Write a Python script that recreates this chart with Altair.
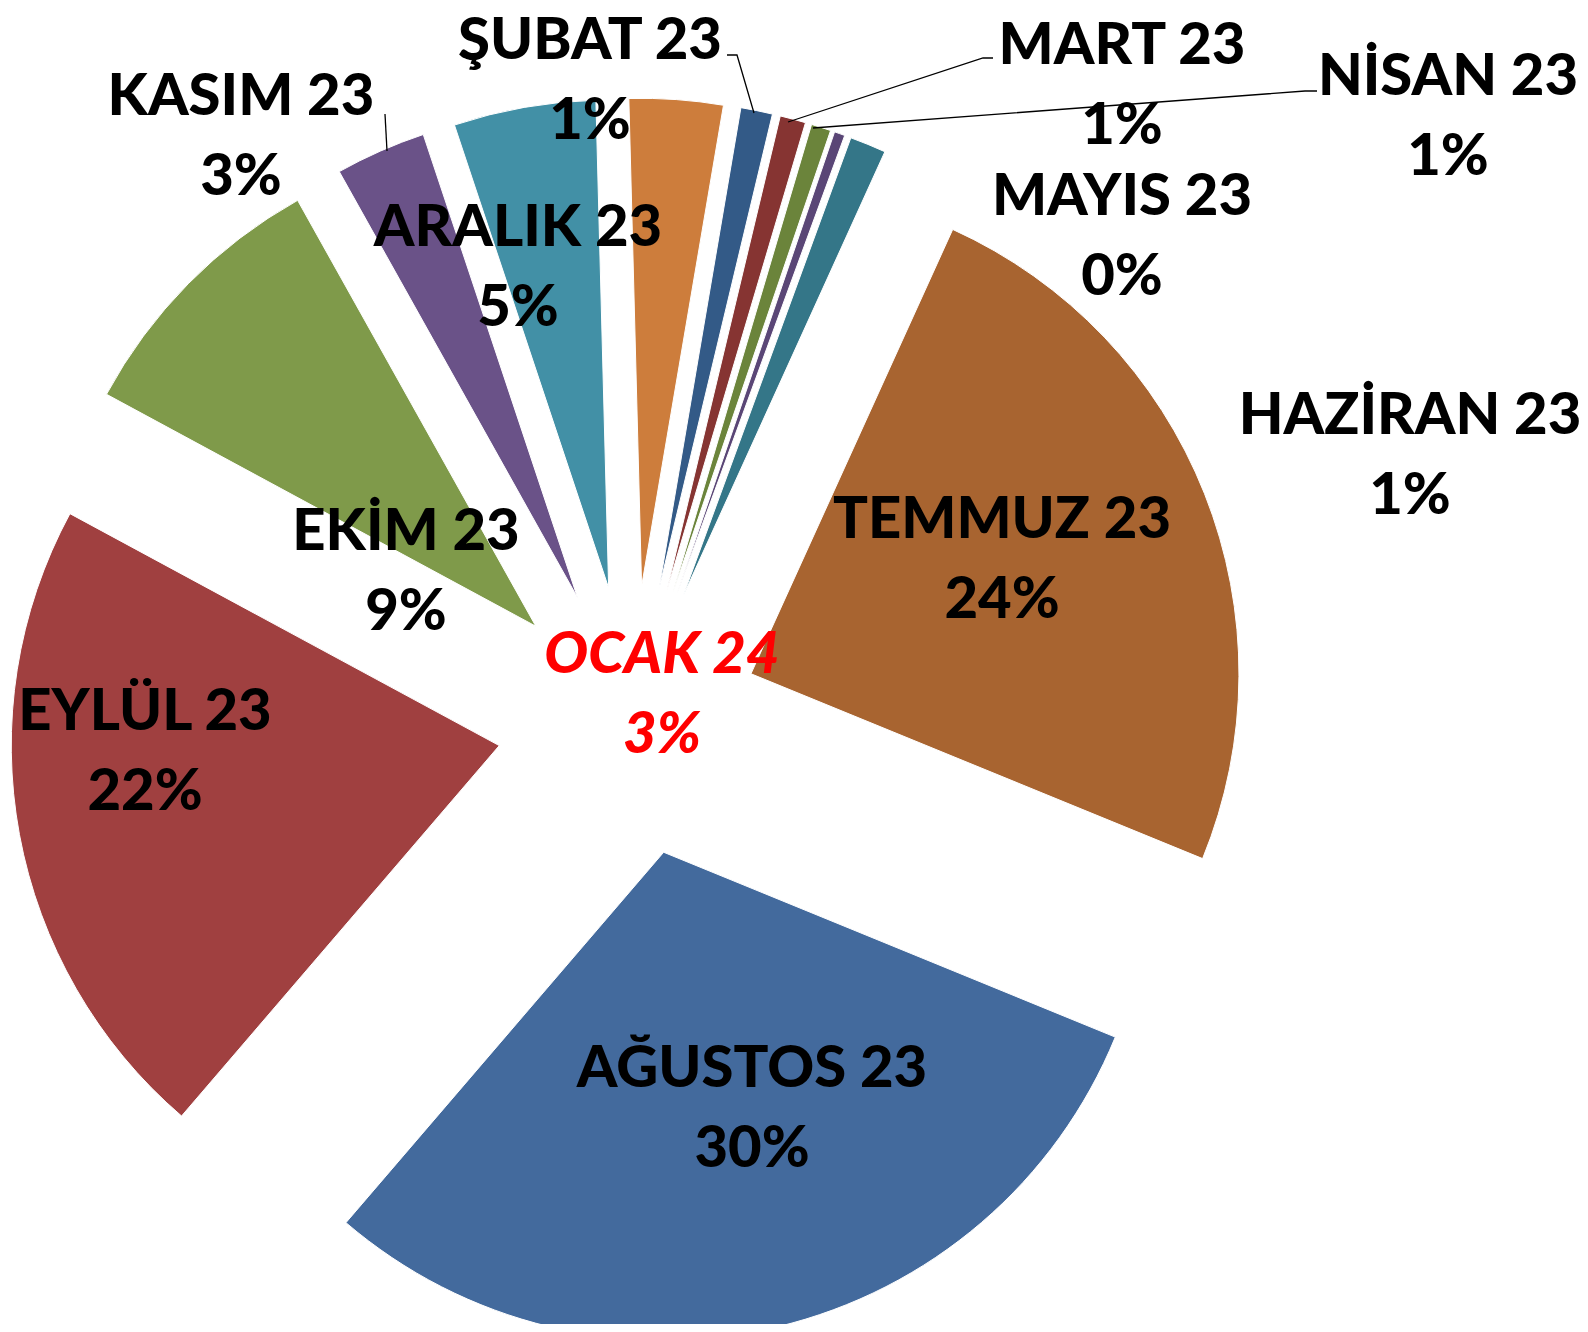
import math
import altair as alt
import pandas as pd

# ---------------- data ----------------
months = ["OCAK 24", "ŞUBAT 23", "MART 23", "NİSAN 23", "MAYIS 23", "HAZİRAN 23",
          "TEMMUZ 23", "AĞUSTOS 23", "EYLÜL 23", "EKİM 23", "KASIM 23", "ARALIK 23"]
shares = [3.1, 1.05, 0.85, 0.65, 0.35, 1.2, 24.4, 30.1, 21.6, 9.0, 3.0, 4.7]
pct_labels = ["3%", "1%", "1%", "1%", "0%", "1%", "24%", "30%", "22%", "9%", "3%", "5%"]

# ---------------- styling ----------------
colors = ["#CD7D3C", "#335A87", "#863432", "#6B843B", "#5A4676", "#347688",
          "#A86430", "#436A9D", "#A04040", "#7F9A4A", "#6A5288", "#4290A6"]

W, H = 1572, 1316
CX, CY = 624, 713           # pie centre (px)
EXPLODE = 135               # explosion distance of the slices
EXPLODE_TEMMUZ = 128        # that slice is pulled out a little less
RADIUS = 488
START = math.radians(-1.5)  # angle where the first slice starts
FONT = "Lato"
FSIZE = 58
LINE_H = 80

# label placement (manually placed labels in the original), baseline of first line
label_x = [654, 582, 1114, 1440, 1114, 1402, 994, 744, 137, 398, 233, 510]
label_y = [665, 51, 56, 87, 207, 426, 530, 1079, 722, 542, 107, 238]

# leader lines (label end -> slice)
leaders = {
    "ŞUBAT 23": [(719, 47), (729, 47), (746, 105)],
    "MART 23": [(985, 50), (975, 50), (780, 114)],
    "NİSAN 23": [(1309, 83), (1297, 83), (805, 120)],
    "KASIM 23": [(377, 106), (379, 143)],
}

# ---------------- tables ----------------
slices = pd.DataFrame({"month": months, "share": shares, "k": list(range(len(months)))})

labels = pd.DataFrame({
    "text": [m + "\n" + p for m, p in zip(months, pct_labels)],
    "lx": label_x,
    "ly": label_y,
    "red": [m == "OCAK 24" for m in months],
})

rows = []
for name, pts in leaders.items():
    for i, (px, py) in enumerate(pts):
        rows.append({"id": name, "i": i, "lx": px, "ly": py})
lead_df = pd.DataFrame(rows)

# ---------------- pie ----------------
pie = (
    alt.Chart(slices)
    .transform_window(cum="sum(share)", sort=[alt.SortField("k")], frame=[None, 0])
    .transform_joinaggregate(total="sum(share)")
    .transform_calculate(a1=f"{START} + 2*PI*datum.cum/datum.total")
    .transform_calculate(a0=f"{START} + 2*PI*(datum.cum-datum.share)/datum.total")
    .transform_calculate(mid="(datum.a0+datum.a1)/2")
    .transform_calculate(ex=f"datum.month === 'TEMMUZ 23' ? {EXPLODE_TEMMUZ} : {EXPLODE}")
    .transform_calculate(px=f"{CX} + datum.ex*sin(datum.mid)")
    .transform_calculate(py=f"{CY} - datum.ex*cos(datum.mid)")
    .mark_arc(radius=RADIUS, stroke="white", strokeWidth=1)
    .encode(
        x=alt.X("px:Q", scale=None, axis=None),
        y=alt.Y("py:Q", scale=None, axis=None),
        theta=alt.Theta("a0:Q", scale=None),
        theta2=alt.Theta2("a1:Q"),
        color=alt.Color("month:N", scale=alt.Scale(domain=months, range=colors), legend=None),
    )
)

lines = (
    alt.Chart(lead_df)
    .mark_line(color="black", strokeWidth=1.3)
    .encode(
        x=alt.X("lx:Q", scale=None, axis=None),
        y=alt.Y("ly:Q", scale=None, axis=None),
        detail="id:N",
        order="i:O",
    )
)

black_text = (
    alt.Chart(labels)
    .transform_filter("!datum.red")
    .mark_text(font=FONT, fontWeight=900, fontSize=FSIZE, lineBreak="\n",
               lineHeight=LINE_H, align="center", baseline="alphabetic", color="black")
    .encode(x=alt.X("lx:Q", scale=None, axis=None),
            y=alt.Y("ly:Q", scale=None, axis=None),
            text="text:N")
)

red_text = (
    alt.Chart(labels)
    .transform_filter("datum.red")
    .mark_text(font=FONT, fontWeight=900, fontStyle="italic", fontSize=FSIZE,
               lineBreak="\n", lineHeight=LINE_H, align="center",
               baseline="alphabetic", color="#FF0000")
    .encode(x=alt.X("lx:Q", scale=None, axis=None),
            y=alt.Y("ly:Q", scale=None, axis=None),
            text="text:N")
)

chart = (
    alt.layer(pie, lines, black_text, red_text)
    .properties(width=W, height=H, padding=0, autosize=alt.AutoSizeParams(type="none"),
                background="white")
    .configure_view(stroke=None)
)

chart.save("out.html", embed_options={"renderer": "svg", "actions": False})
